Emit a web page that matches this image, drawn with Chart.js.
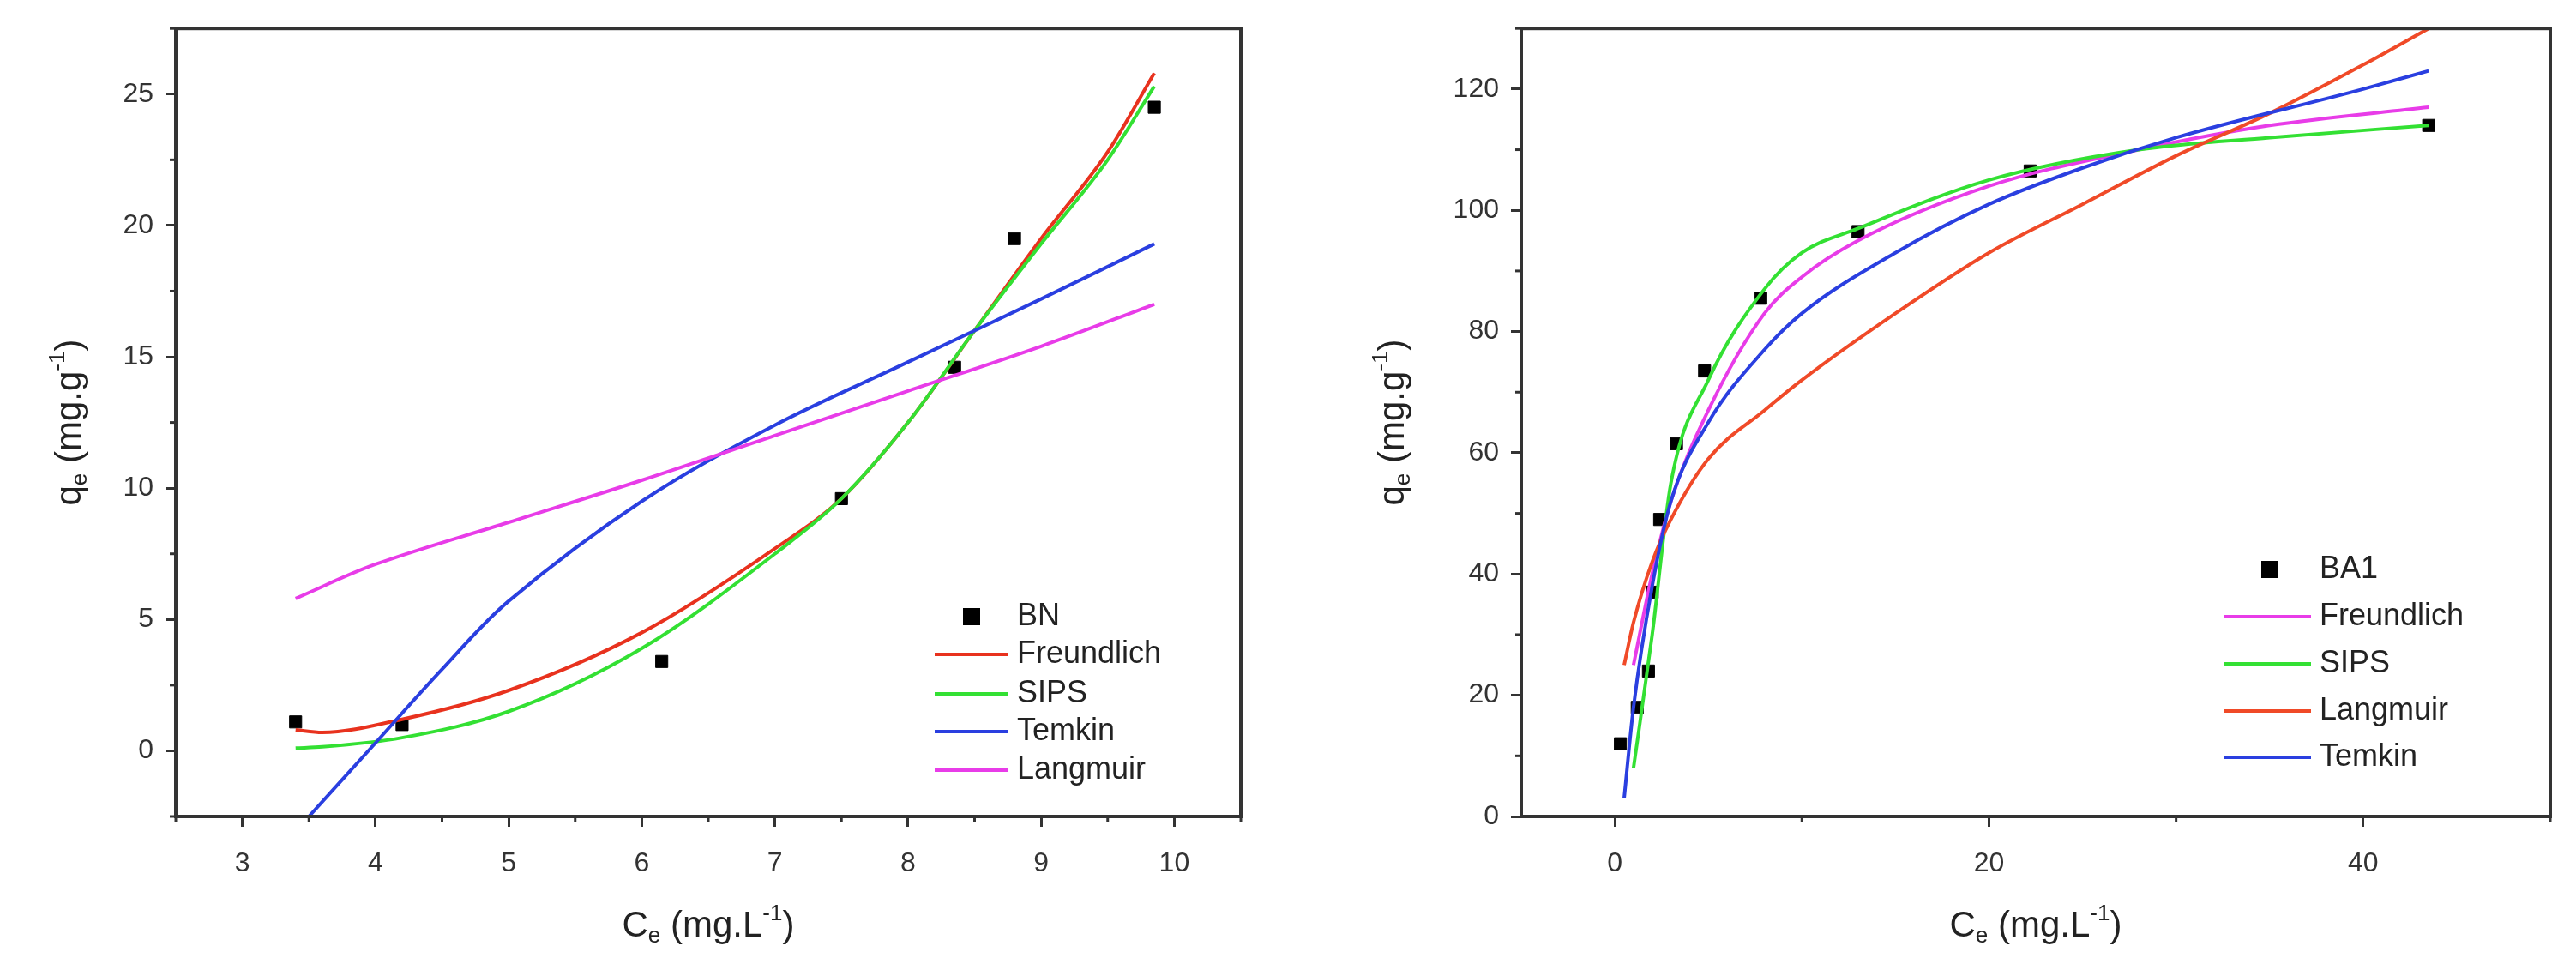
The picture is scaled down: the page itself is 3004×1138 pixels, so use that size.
<!DOCTYPE html>
<html><head><meta charset="utf-8">
<script src="https://cdn.jsdelivr.net/npm/chart.js@4.4.0/dist/chart.umd.min.js"></script>
<style>
html,body{margin:0;padding:0;background:#fff;width:3004px;height:1138px;overflow:hidden}
.w{position:absolute;top:0;height:1138px}
</style></head><body>
<div class="w" style="left:0;width:1500px"><canvas id="c1"></canvas></div>
<div class="w" style="left:1500px;width:1504px"><canvas id="c2"></canvas></div>
<script>
// ---- Left chart (BN) ----
const bnX = [3.4, 4.2, 6.15, 7.5, 8.35, 8.8, 9.85];
const bnY = [1.1, 1.0, 3.4, 9.6, 14.6, 19.5, 24.5];
const bnFitX = [3.4, 3.6, 4.2, 5, 6, 7, 7.5, 8, 8.5, 9, 9.5, 9.85];
const bnFreundlich = [0.8, 0.7, 1.2, 2.3, 4.5, 7.7, 9.6, 12.5, 16, 19.5, 22.8, 25.8];
const bnSips = [0.1, 0.15, 0.5, 1.5, 3.9, 7.5, 9.6, 12.5, 16, 19.3, 22.5, 25.3];
const bnTemkinX = [3.5, 4, 4.5, 5, 6, 7, 8, 9, 9.85];
const bnTemkin = [-2.5, 0.3, 3.1, 5.7, 9.5, 12.4, 14.8, 17.2, 19.3];
const bnLangmuirX = [3.4, 4, 5, 6, 7, 8, 9, 9.85];
const bnLangmuir = [5.8, 7.1, 8.7, 10.3, 12, 13.7, 15.4, 17];
const bnXTicks = [3, 4, 5, 6, 7, 8, 9, 10];
const bnYTicks = [0, 5, 10, 15, 20, 25];
// ---- Right chart (BA1) ----
const baX = [0.3, 1.2, 1.8, 2.0, 2.4, 3.3, 4.8, 7.8, 13, 22.2, 43.5];
const baY = [12, 18, 24, 37, 49, 61.5, 73.5, 85.5, 96.5, 106.5, 114];
const baFitX = [1, 2, 3, 5, 8, 10, 13, 20, 28, 35, 43.5];
const baFreundlich = [25, 40, 52, 67, 83, 89, 95, 104, 110, 114, 117];
const baSips = [8, 30, 55, 72, 87, 93, 97, 105, 110, 112, 114];
const baLangmuirX = [0.5, 1, 2, 3, 5, 8, 10, 15, 20, 25, 30, 35, 40, 43.5];
const baLangmuir = [25, 32, 42, 49, 59, 67, 72, 83, 93, 101, 109, 116, 124, 130];
const baTemkinX = [0.5, 1, 2, 3, 5, 8, 10, 15, 20, 25, 30, 40, 43.5];
const baTemkin = [3, 18, 38, 52, 65, 77, 83, 93, 101, 107, 112, 120, 123];
const baXTicks = [0, 20, 40];
const baYTicks = [0, 20, 40, 60, 80, 100, 120];

const FONT = '"Liberation Sans", Arial, sans-serif';
const AX = '#333';
const pts = (xs, ys) => xs.map((x, i) => ({x, y: ys[i]}));
function line(label, xs, ys, color, mono) {
  return {label, data: pts(xs, ys), showLine: true, borderColor: color, backgroundColor: color,
    borderWidth: 4, pointRadius: 0, tension: 0.35, cubicInterpolationMode: mono ? 'monotone' : 'default', fill: false};
}
function scatter(label, xs, ys) {
  return {label, data: pts(xs, ys), showLine: false, pointStyle: 'rect', pointRadius: 10,
    backgroundColor: '#000', borderColor: '#000'};
}
function drawLabel(ctx, x, y, parts, rot) {
  ctx.save(); ctx.translate(x, y); if (rot) ctx.rotate(-Math.PI / 2);
  let total = 0;
  parts.forEach(p => { ctx.font = (p.s || 42) + 'px ' + FONT; total += ctx.measureText(p.t).width; });
  let cx = -total / 2;
  ctx.fillStyle = '#222'; ctx.textBaseline = 'middle'; ctx.textAlign = 'left';
  parts.forEach(p => { ctx.font = (p.s || 42) + 'px ' + FONT; ctx.fillText(p.t, cx, p.dy || 0); cx += ctx.measureText(p.t).width; });
  ctx.restore();
}
function makeChart(id, cfg) {
  const frame = {
    id: 'frame',
    afterDraw(ch) {
      const {ctx, chartArea: a, scales} = ch;
      ctx.save(); ctx.strokeStyle = AX; ctx.lineWidth = 4;
      ctx.strokeRect(a.left, a.top, a.right - a.left, a.bottom - a.top);
      ctx.lineWidth = 3;
      cfg.xMinor.forEach(v => { const p = scales.x.getPixelForValue(v); ctx.beginPath(); ctx.moveTo(p, a.bottom); ctx.lineTo(p, a.bottom + 7); ctx.stroke(); });
      cfg.yMinor.forEach(v => { const p = scales.y.getPixelForValue(v); ctx.beginPath(); ctx.moveTo(a.left, p); ctx.lineTo(a.left - 7, p); ctx.stroke(); });
      ctx.restore();
      drawLabel(ctx, (a.left + a.right) / 2, 1080, [{t: 'C'}, {t: 'e', s: 26, dy: 12}, {t: ' (mg.L'}, {t: '-1', s: 26, dy: -14}, {t: ')'}]);
      drawLabel(ctx, cfg.yTitleX, (a.top + a.bottom) / 2, [{t: 'q'}, {t: 'e', s: 26, dy: 12}, {t: ' (mg.g'}, {t: '-1', s: 26, dy: -14}, {t: ')'}], true);
      ctx.save(); ctx.font = '36px ' + FONT; ctx.textBaseline = 'middle'; ctx.fillStyle = '#222';
      cfg.legend.forEach((it, i) => {
        const y = cfg.legY[i];
        if (it.sq) { ctx.fillStyle = '#000'; ctx.fillRect(cfg.legSq - 10, y - 10, 20, 20); }
        else { ctx.strokeStyle = it.c; ctx.lineWidth = 4; ctx.beginPath(); ctx.moveTo(cfg.legL0, y); ctx.lineTo(cfg.legL1, y); ctx.stroke(); }
        ctx.fillStyle = '#222'; ctx.fillText(it.t, cfg.legT, y);
      });
      ctx.restore();
    }
  };
  return new Chart(document.getElementById(id), {
    type: 'scatter',
    data: {datasets: cfg.datasets},
    options: {
      responsive: true, maintainAspectRatio: false, animation: false,
      layout: {padding: {top: cfg.top, right: cfg.right, left: 0, bottom: 0}},
      plugins: {legend: {display: false}, tooltip: {enabled: false}},
      scales: {
        x: {type: 'linear', min: cfg.xMin, max: cfg.xMax,
          afterBuildTicks: s => { s.ticks = cfg.xTicks.map(v => ({value: v})); },
          afterFit: s => { s.height = 1138 - 952; },
          grid: {drawOnChartArea: false, tickLength: 12, color: AX, lineWidth: 3, drawTicks: true},
          border: {display: false},
          ticks: {padding: 24, color: '#333', font: {size: 32, family: FONT}, maxRotation: 0}},
        y: {type: 'linear', min: cfg.yMin, max: cfg.yMax,
          afterBuildTicks: s => { s.ticks = cfg.yTicks.map(v => ({value: v})); },
          afterFit: s => { s.width = cfg.left; },
          grid: {drawOnChartArea: false, tickLength: 12, color: AX, lineWidth: 3},
          border: {display: false},
          ticks: {padding: 14, color: '#333', font: {size: 32, family: FONT}}}
      }
    },
    plugins: [frame]
  });
}
makeChart('c1', {
  datasets: [
    line('Langmuir', bnLangmuirX, bnLangmuir, '#e83ce8', false),
    line('Temkin', bnTemkinX, bnTemkin, '#2a3fe0', false),
    line('SIPS', bnFitX, bnSips, '#33e033', true),
    line('Freundlich', bnFitX, bnFreundlich, '#e8321e', true),
    scatter('BN', bnX, bnY)
  ],
  xMin: 2.5, xMax: 10.5, yMin: -2.5, yMax: 27.5, xTicks: bnXTicks, yTicks: bnYTicks,
  xMinor: [2.5, 3.5, 4.5, 5.5, 6.5, 7.5, 8.5, 9.5, 10.5], yMinor: [-2.5, 2.5, 7.5, 12.5, 17.5, 22.5, 27.5],
  top: 29, right: 53, left: 205, yTitleX: 82,
  legend: [{t: 'BN', sq: 1}, {t: 'Freundlich', c: '#e8321e'}, {t: 'SIPS', c: '#33e033'}, {t: 'Temkin', c: '#2a3fe0'}, {t: 'Langmuir', c: '#e83ce8'}],
  legY: [719, 763, 809, 853, 898], legSq: 1133, legL0: 1090, legL1: 1176, legT: 1186
});
makeChart('c2', {
  datasets: [
    line('Temkin', baTemkinX, baTemkin, '#2a3fe0', true),
    line('Langmuir', baLangmuirX, baLangmuir, '#f04a28', true),
    line('SIPS', baFitX, baSips, '#33e033', true),
    line('Freundlich', baFitX, baFreundlich, '#e83ce8', true),
    scatter('BA1', baX, baY)
  ],
  xMin: -5, xMax: 50, yMin: 0, yMax: 130, xTicks: baXTicks, yTicks: baYTicks,
  xMinor: [10, 30, 50], yMinor: [10, 30, 50, 70, 90, 110, 130],
  top: 28, right: 30, left: 274, yTitleX: 125,
  legend: [{t: 'BA1', sq: 1}, {t: 'Freundlich', c: '#e83ce8'}, {t: 'SIPS', c: '#33e033'}, {t: 'Langmuir', c: '#f04a28'}, {t: 'Temkin', c: '#2a3fe0'}],
  legY: [664, 719, 774, 829, 883], legSq: 1147, legL0: 1094, legL1: 1195, legT: 1205
});
</script>
</body></html>
